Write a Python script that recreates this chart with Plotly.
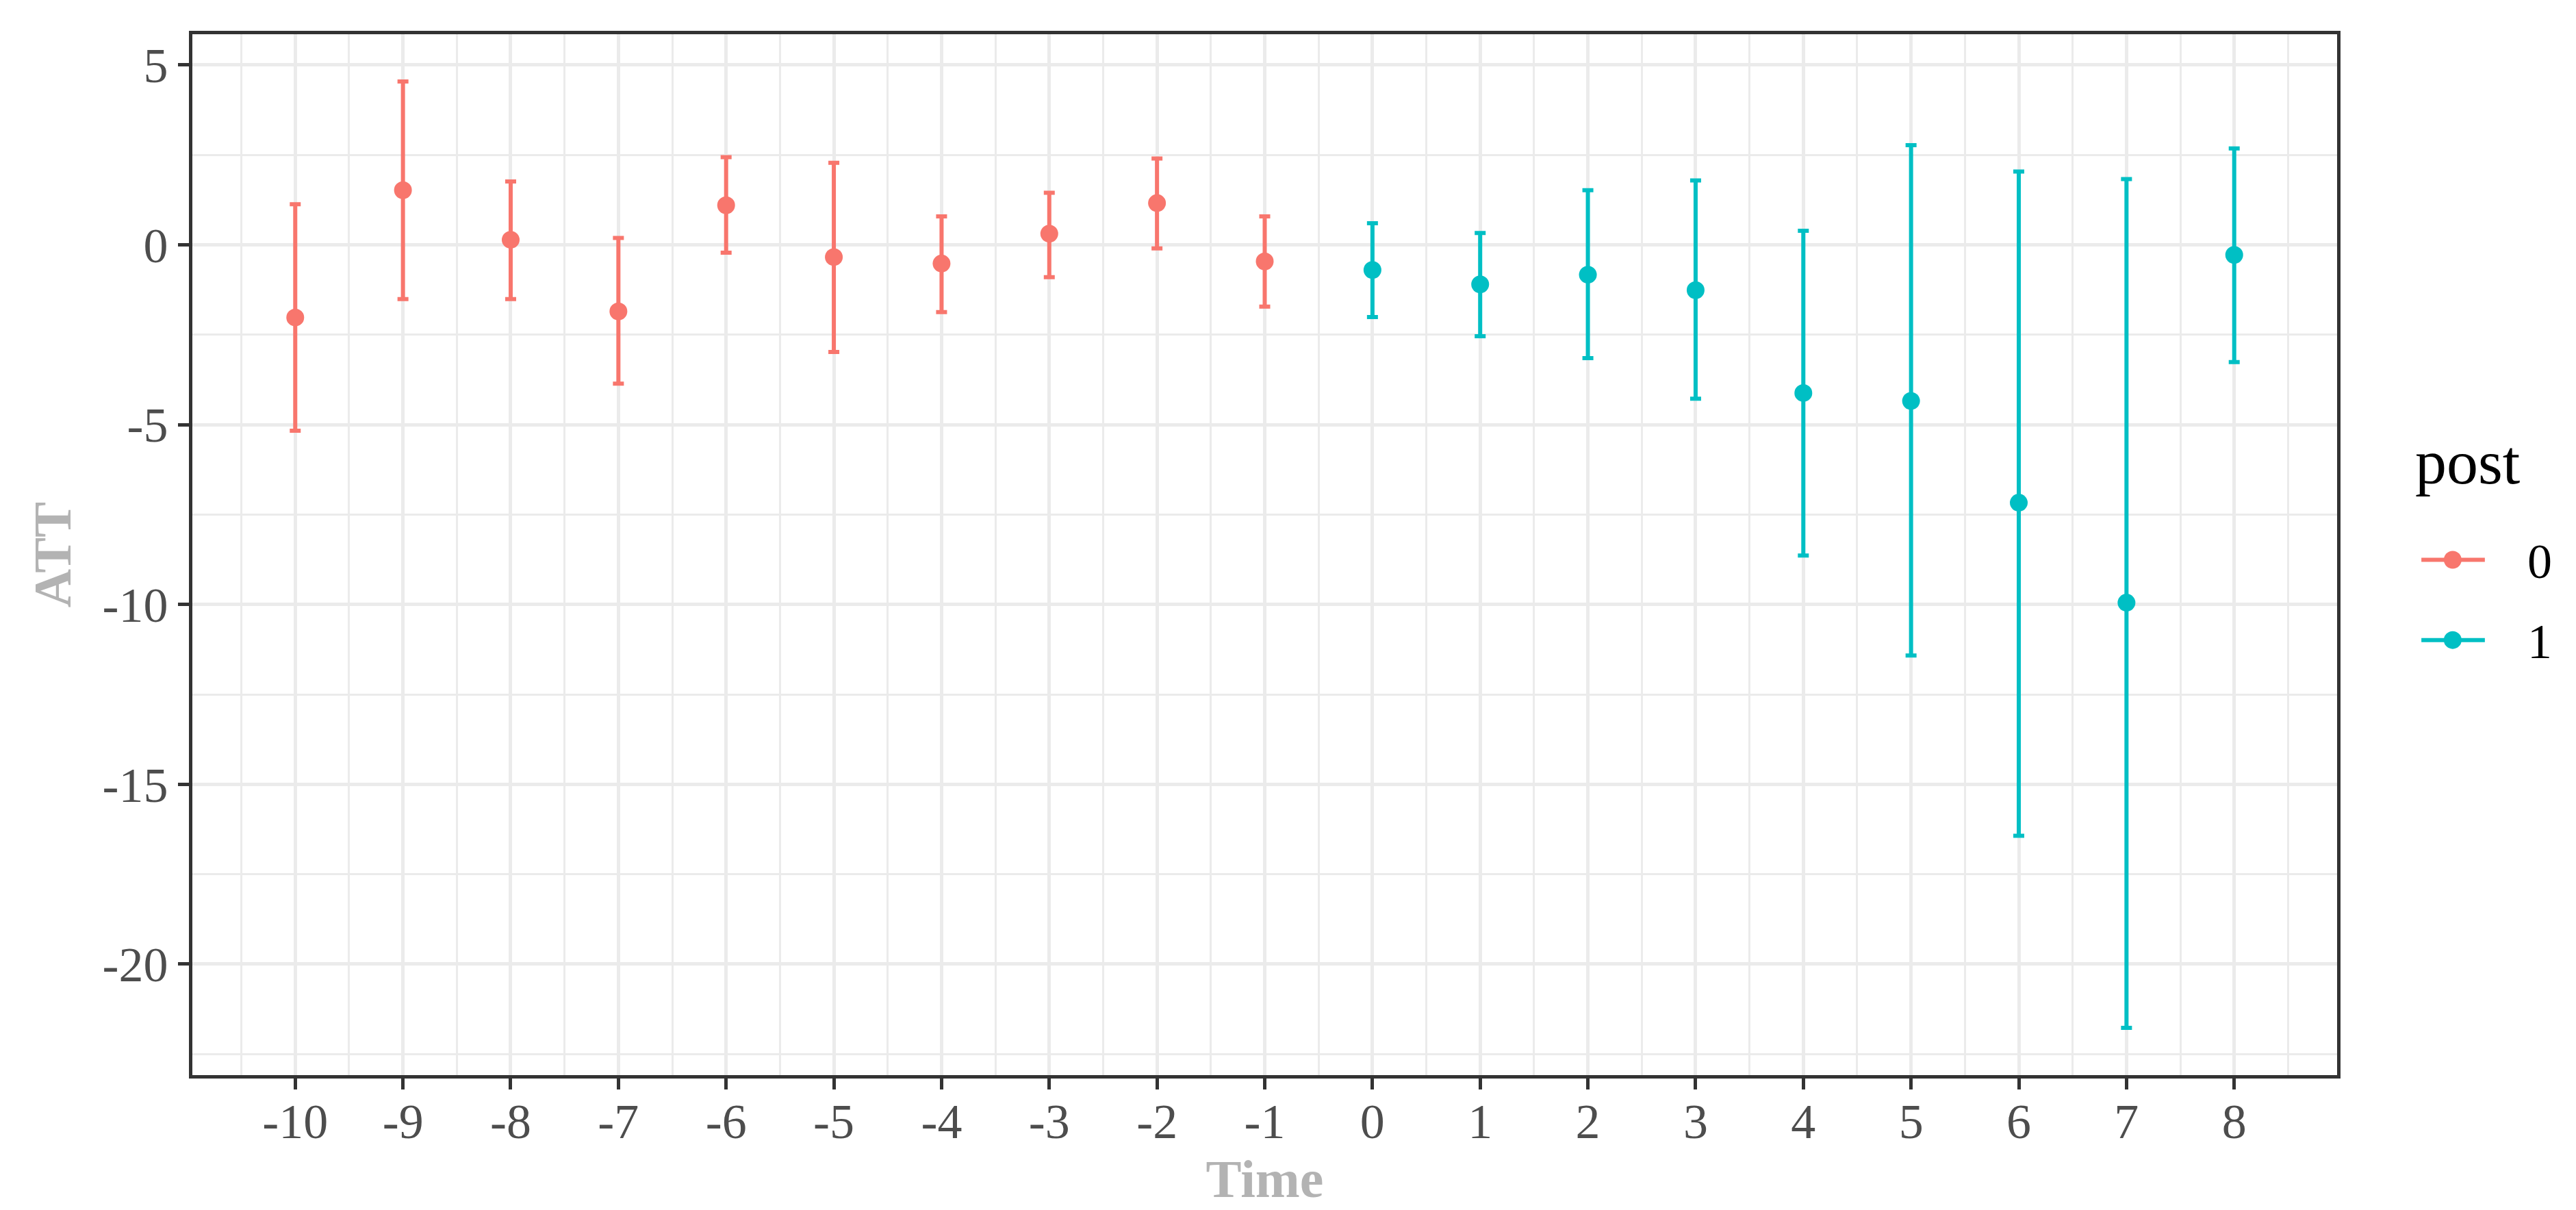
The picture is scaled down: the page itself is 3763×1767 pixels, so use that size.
import plotly.graph_objects as graph_objects

# Event-study estimates (ATT) with confidence bounds
time = [-10, -9, -8, -7, -6, -5, -4, -3, -2, -1, 0, 1, 2, 3, 4, 5, 6, 7, 8]
att = [-2.02, 1.52, 0.14, -1.85, 1.10, -0.34, -0.52, 0.31, 1.16, -0.46,
       -0.70, -1.10, -0.83, -1.26, -4.12, -4.34, -7.17, -9.95, -0.28]
ci_lower = [-5.17, -1.51, -1.51, -3.86, -0.22, -2.98, -1.87, -0.90, -0.10, -1.72,
            -2.01, -2.54, -3.15, -4.28, -8.64, -11.42, -16.43, -21.77, -3.26]
ci_upper = [1.13, 4.54, 1.76, 0.19, 2.44, 2.28, 0.79, 1.45, 2.40, 0.79,
            0.60, 0.33, 1.52, 1.79, 0.39, 2.77, 2.04, 1.83, 2.68]
post = [0, 0, 0, 0, 0, 0, 0, 0, 0, 0, 1, 1, 1, 1, 1, 1, 1, 1, 1]

groups = [0, 1]
group_labels = ["0", "1"]
group_colors = ["#F8766D", "#00BFC4"]

x_ticks = [-10, -9, -8, -7, -6, -5, -4, -3, -2, -1, 0, 1, 2, 3, 4, 5, 6, 7, 8]
x_tick_labels = ["-10", "-9", "-8", "-7", "-6", "-5", "-4", "-3", "-2", "-1",
                 "0", "1", "2", "3", "4", "5", "6", "7", "8"]
y_ticks = [-20, -15, -10, -5, 0, 5]
y_tick_labels = ["-20", "-15", "-10", "-5", "0", "5"]

FONT = "Liberation Serif"
BORDER = "#333333"
GRID = "#EBEBEB"

fig = graph_objects.Figure()

for group, color in zip(groups, group_colors):
    idx = [i for i, p in enumerate(post) if p == group]
    xs = [time[i] for i in idx]
    ys = [att[i] for i in idx]
    plus = [ci_upper[i] - att[i] for i in idx]
    minus = [att[i] - ci_lower[i] for i in idx]

    fig.add_trace(graph_objects.Scatter(
        x=xs, y=ys, mode="markers", showlegend=False,
        marker=dict(color=color, size=26),
        error_y=dict(type="data", array=plus, arrayminus=minus, symmetric=False,
                     color=color, thickness=6, width=8),
    ))

# ggplot-style expanded limits (5%), including the errorbar caps
x_lo, x_hi = min(time) - 0.05, max(time) + 0.05
y_lo, y_hi = min(ci_lower), max(ci_upper)
x_pad = (x_hi - x_lo) * 0.05
y_pad = (y_hi - y_lo) * 0.05

axis_common = dict(
    automargin=False,
    showline=True, linecolor=BORDER, linewidth=5, mirror=True,
    ticks="outside", ticklen=16, tickwidth=5, tickcolor=BORDER,
    showgrid=True, gridcolor=GRID, gridwidth=5, zeroline=False,
    tickfont=dict(family=FONT, size=72, color="#4D4D4D"),
)

# ggplot-like legend to the right of the panel: key = line with a dot
key_x0, key_x1, key_mid = 1.0393, 1.0689, 1.0539
label_x = 1.0881
key_y = [0.4951, 0.4180]
for ky, label, color in zip(key_y, group_labels, group_colors):
    fig.add_shape(type="line", xref="paper", yref="paper",
                  x0=key_x0, x1=key_x1, y0=ky, y1=ky,
                  line=dict(color=color, width=6))
    fig.add_shape(type="circle", xref="paper", yref="paper",
                  xsizemode="pixel", ysizemode="pixel",
                  xanchor=key_mid, yanchor=ky, x0=-13, x1=13, y0=-13, y1=13,
                  line=dict(width=0), fillcolor=color)
    fig.add_annotation(text=label, xref="paper", yref="paper",
                       x=label_x, y=ky - 0.0015, xanchor="left", yanchor="middle",
                       showarrow=False, font=dict(family=FONT, size=72, color="black"))
fig.add_annotation(text="post", xref="paper", yref="paper",
                   x=1.0357, y=0.5890, xanchor="left", yanchor="middle",
                   showarrow=False, font=dict(family=FONT, size=92, color="black"))

# the page body keeps its default 8px margin, so the figure is 8px smaller
# and its top/left margins are reduced by the same amount
fig.update_layout(
    width=3755,
    height=1759,
    margin=dict(l=273, r=349, t=42, b=197),
    paper_bgcolor="white",
    plot_bgcolor="white",
    font=dict(family=FONT, color="black"),
    showlegend=False,
    xaxis=dict(
        range=[x_lo - x_pad, x_hi + x_pad],
        tickmode="array", tickvals=x_ticks, ticktext=x_tick_labels,
        ticklabelstandoff=-15,
        minor=dict(tick0=0.5, dtick=1, showgrid=True, gridcolor=GRID, gridwidth=3, ticks=""),
        title=dict(text="<b>Time</b>", standoff=17,
                   font=dict(family=FONT, size=78, color="#B3B3B3")),
        **axis_common,
    ),
    yaxis=dict(
        range=[y_lo - y_pad, y_hi + y_pad],
        tickmode="array", tickvals=y_ticks, ticktext=y_tick_labels,
        minor=dict(tick0=2.5, dtick=5, showgrid=True, gridcolor=GRID, gridwidth=3, ticks=""),
        title=dict(text="<b>ATT</b>", standoff=22,
                   font=dict(family=FONT, size=78, color="#B3B3B3")),
        **axis_common,
    ),
)

fig.write_html("out.html")
